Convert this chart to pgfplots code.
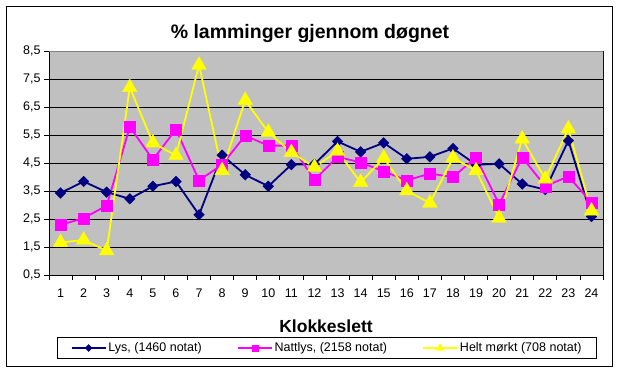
\documentclass[border=0pt]{standalone}
\usepackage{pgfplots}
\usepackage{pgfplotstable}
\pgfplotsset{compat=1.18}
\usepackage{fontspec}
\setmainfont{Liberation Sans}
\definecolor{lysc}{HTML}{000080}
\definecolor{natc}{HTML}{FF00FF}
\definecolor{heltc}{HTML}{FFFF00}
\definecolor{plotbg}{HTML}{C0C0C0}
\definecolor{bordergray}{HTML}{808080}

\pgfplotstableread{
x y
1 3.43
2 3.84
3 3.46
4 3.22
5 3.67
6 3.84
7 2.65
8 4.78
9 4.08
10 3.67
11 4.44
12 4.46
13 5.27
14 4.90
15 5.22
16 4.65
17 4.72
18 5.02
19 4.44
20 4.47
21 3.75
22 3.55
23 5.30
24 2.59
}\lys

\pgfplotstableread{
x y
1 2.29
2 2.53
3 2.98
4 5.79
5 4.62
6 5.70
7 3.88
8 4.44
9 5.48
10 5.12
11 5.12
12 3.90
13 4.72
14 4.52
15 4.20
16 3.88
17 4.12
18 4.00
19 4.70
20 3.03
21 4.70
22 3.67
23 4.02
24 3.09
}\natt

\pgfplotstableread{
x y
1 1.66
2 1.75
3 1.37
4 7.20
5 5.22
6 4.77
7 8.00
8 4.23
9 6.74
10 5.60
11 4.88
12 4.35
13 4.92
14 3.81
15 4.68
16 3.51
17 3.07
18 4.68
19 4.23
20 2.53
21 5.36
22 3.93
23 5.72
24 2.79
}\helt

\begin{document}
\begin{tikzpicture}[x=1pt,y=1pt]
\fill[white] (0,0) rectangle (620,373);
\draw[black, line width=0.9pt] (6,7) rectangle (612,367);
\node[font=\fontsize{19.5}{22}\selectfont\bfseries, anchor=base] at (310,334) {\% lamminger gjennom døgnet};
\node[font=\fontsize{17.5}{20}\selectfont\bfseries, anchor=base] at (326,41) {Klokkeslett};
\begin{axis}[
  at={(49pt,98pt)}, anchor=south west,
  scale only axis, width=554pt, height=224pt,
  xmin=0.5, xmax=24.5, ymin=0.5, ymax=8.5,
  axis background/.style={fill=plotbg},
  axis line style={black, line width=0.8pt},
  xtick={1,...,24},
  major x tick style={draw=none},
  minor xtick={0.5,1.5,...,24.5},
  minor tick length=5pt,
  major tick length=5pt,
  ytick={0.5,1.5,...,8.5},
  tick align=outside,
  tick pos=left,
  tick style={black, line width=0.7pt},
  ymajorgrids,
  major grid style={black, line width=0.9pt},
  /pgf/number format/assume math mode=true,
  ticklabel style={font=\fontsize{12.5}{14}\selectfont},
  yticklabel style={/pgf/number format/.cd, fixed, fixed zerofill, precision=1, use comma},
  xticklabel style={yshift=-5pt},
  legend columns=3,
  legend image code/.code={\draw[#1, mark repeat=2, mark phase=2] plot coordinates {(0pt,0pt) (17pt,0pt) (34pt,0pt)};},
  legend style={at={(axis description cs:0.502,-0.326)}, anchor=center,
    draw=black, line width=0.8pt, fill=white,
    font=\fontsize{12.5}{14}\selectfont,
    /tikz/every even column/.style={column sep=33pt},
    /tikz/every odd column/.style={column sep=0pt},
    inner xsep=13pt, inner ysep=3pt,
    cells={anchor=west}},
]
\draw[bordergray, line width=0.8pt] (rel axis cs:0,1) -- (rel axis cs:1,1) -- (rel axis cs:1,0);
\addplot[lysc, line width=1.8pt, no marks, forget plot] table[x=x,y=y] {\lys};
\addplot[natc, line width=1.8pt, no marks, forget plot] table[x=x,y=y] {\natt};
\addplot[heltc, line width=1.8pt, no marks, forget plot] table[x=x,y=y] {\helt};
\addplot[only marks, mark=square*, mark size=3.8pt, mark options={rotate=45, fill=lysc, draw=lysc, line width=0.3pt}, forget plot] table[x=x,y=y] {\lys};
\addplot[only marks, mark=square*, mark size=5.5pt, mark options={fill=natc, draw=natc, line width=0.3pt}, forget plot] table[x=x,y=y] {\natt};
\addplot[only marks, mark=triangle*, mark size=8.5pt, mark options={fill=heltc, draw=heltc, line width=0.3pt}, forget plot] table[x=x,y=y] {\helt};
\addlegendimage{lysc, line width=1.8pt, mark=square*, mark size=2.5pt, mark options={rotate=45, line width=0.3pt, fill=lysc}}
\addlegendentry{Lys, (1460 notat)}
\addlegendimage{natc, line width=1.8pt, mark=square*, mark size=3pt, mark options={line width=0.3pt, fill=natc}}
\addlegendentry{Nattlys, (2158 notat)}
\addlegendimage{heltc, line width=1.8pt, mark=triangle*, mark size=4.5pt, mark options={line width=0.3pt, fill=heltc}}
\addlegendentry{Helt mørkt (708 notat)}
\end{axis}
\end{tikzpicture}
\end{document}
